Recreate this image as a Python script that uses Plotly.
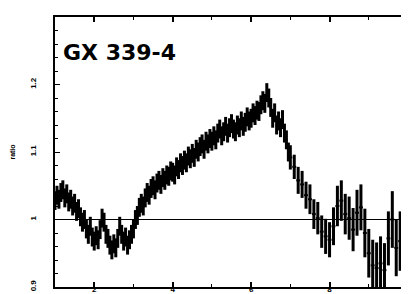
import plotly.graph_objects as go

# Fine-binned part of the ratio spectrum (keV, ratio)
energy_lo = [1.00, 1.05, 1.10, 1.15, 1.20, 1.25, 1.30, 1.35, 1.40, 1.45,
             1.50, 1.55, 1.60, 1.65, 1.70, 1.75, 1.80, 1.85, 1.90, 1.95,
             2.00, 2.05, 2.10, 2.15, 2.20, 2.25, 2.30, 2.35, 2.40, 2.45,
             2.50, 2.55, 2.60, 2.65, 2.70, 2.75, 2.80, 2.85, 2.90, 2.95,
             3.00, 3.05, 3.10, 3.15, 3.20, 3.25, 3.30, 3.35, 3.40, 3.45,
             3.50, 3.55, 3.60, 3.65, 3.70, 3.75, 3.80, 3.85, 3.90, 3.95,
             4.00, 4.05, 4.10, 4.15, 4.20, 4.25, 4.30, 4.35, 4.40, 4.45,
             4.50, 4.55, 4.60, 4.65, 4.70, 4.75, 4.80, 4.85, 4.90, 4.95,
             5.00, 5.05, 5.10, 5.15, 5.20, 5.25, 5.30, 5.35, 5.40, 5.45,
             5.50, 5.55, 5.60, 5.65, 5.70, 5.75, 5.80, 5.85, 5.90, 5.95,
             6.00, 6.05, 6.10, 6.15, 6.20, 6.25, 6.30, 6.35, 6.40, 6.45,
             6.50, 6.55, 6.60, 6.65, 6.70, 6.75, 6.80, 6.85, 6.90, 6.95]
ratio_lo = [1.028, 1.036, 1.030, 1.040, 1.044, 1.032, 1.038, 1.026, 1.030, 1.020,
            1.024, 1.012, 1.016, 1.004, 0.996, 1.000, 0.986, 0.978, 0.990, 0.974,
            0.968, 0.976, 0.970, 0.985, 1.002, 0.996, 0.978, 0.972, 0.962, 0.955,
            0.964, 0.958, 0.972, 0.990, 0.978, 0.968, 0.974, 0.962, 0.970, 0.978,
            0.986, 1.000, 1.006, 1.018, 1.024, 1.020, 1.032, 1.040, 1.036, 1.046,
            1.050, 1.044, 1.054, 1.058, 1.052, 1.062, 1.058, 1.066, 1.064, 1.072,
            1.070, 1.066, 1.078, 1.074, 1.084, 1.080, 1.088, 1.084, 1.094, 1.090,
            1.098, 1.092, 1.104, 1.100, 1.108, 1.112, 1.104, 1.116, 1.112, 1.120,
            1.116, 1.124, 1.118, 1.128, 1.134, 1.124, 1.130, 1.138, 1.128, 1.136,
            1.142, 1.134, 1.130, 1.140, 1.136, 1.146, 1.138, 1.144, 1.152, 1.146,
            1.150, 1.158, 1.154, 1.162, 1.160, 1.170, 1.176, 1.172, 1.188, 1.180,
            1.166, 1.150, 1.158, 1.140, 1.146, 1.136, 1.148, 1.128, 1.118, 1.100]

# Coarse-binned high-energy part
energy_hi = [7.0, 7.1, 7.2, 7.3, 7.4, 7.5, 7.6, 7.7, 7.8, 7.9,
             8.0, 8.1, 8.2, 8.3, 8.4, 8.5, 8.6, 8.7, 8.8, 8.9,
             9.0, 9.1, 9.2, 9.3, 9.4, 9.5, 9.6, 9.7, 9.8, 9.9]
ratio_hi = [1.092, 1.078, 1.058, 1.052, 1.036, 1.030, 1.008, 1.002, 0.982, 0.975,
            0.970, 0.990, 1.020, 1.028, 1.008, 1.002, 0.985, 1.010, 1.018, 0.980,
            0.950, 0.932, 0.928, 0.935, 0.925, 0.972, 1.000, 0.958, 0.968, 0.985]
err_hi = [0.018, 0.018, 0.020, 0.020, 0.020, 0.022, 0.022, 0.024, 0.024, 0.026,
          0.026, 0.028, 0.030, 0.030, 0.030, 0.032, 0.032, 0.034, 0.034, 0.036,
          0.036, 0.038, 0.038, 0.040, 0.040, 0.040, 0.042, 0.042, 0.044, 0.044]

x_ticks = [2, 4, 6, 8, 10]
x_ticktext = ["2", "4", "6", "8", "10"]
y_ticks = [0.9, 1.0, 1.1, 1.2]
y_ticktext = ["0.9", "1", "1.1", "1.2"]

fig = go.Figure()
fig.add_trace(go.Scatter(
    x=energy_lo, y=ratio_lo, mode="markers",
    marker=dict(size=1, color="black"),
    error_y=dict(type="constant", value=0.014, color="black", thickness=3, width=0),
    error_x=dict(type="constant", value=0.025, color="black", thickness=2, width=0),
    showlegend=False,
))
fig.add_trace(go.Scatter(
    x=energy_hi, y=ratio_hi, mode="markers",
    marker=dict(size=1, color="black"),
    error_y=dict(type="data", array=err_hi, color="black", thickness=3, width=0),
    error_x=dict(type="constant", value=0.05, color="black", thickness=2, width=0),
    showlegend=False,
))
fig.add_shape(type="line", xref="paper", x0=0, x1=1, yref="y", y0=1.0, y1=1.0,
              line=dict(color="black", width=1), layer="below")

fig.add_annotation(text="<b>GX 339-4</b>", xref="paper", yref="paper",
                   x=0.018, y=0.87, xanchor="left", yanchor="middle",
                   showarrow=False,
                   font=dict(family="DejaVu Sans", size=22, color="black"))

axis_font = dict(family="Liberation Sans, Arial", size=8, color="black", weight="bold")
fig.update_xaxes(range=[1, 10], tickvals=x_ticks, ticktext=x_ticktext,
                 ticks="inside", ticklen=5, tickwidth=2, tickcolor="black",
                 minor=dict(dtick=1, ticks="inside", ticklen=3, tickwidth=1, tickcolor="black"),
                 showline=True, linewidth=2, linecolor="black", mirror="ticks",
                 showgrid=False, zeroline=False, tickfont=axis_font,
                 ticklabelstandoff=-7)
fig.update_yaxes(range=[0.9, 1.3], tickvals=y_ticks, ticktext=y_ticktext,
                 ticks="inside", ticklen=5, tickwidth=1, tickcolor="black",
                 minor=dict(dtick=0.02, ticks="inside", ticklen=3, tickwidth=1, tickcolor="black"),
                 showline=True, linewidth=2, linecolor="black", mirror="ticks",
                 showgrid=False, zeroline=False, tickfont=axis_font, tickangle=-90,
                 ticklabelstandoff=14,
                 title=dict(text="ratio", font=dict(family="Liberation Sans, Arial", size=7,
                                                    color="black", weight="bold"), standoff=12))

fig.update_layout(width=409, height=294, margin=dict(l=45, r=4, t=9, b=15),
                  paper_bgcolor="white", plot_bgcolor="white")
fig.write_html("out.html")
